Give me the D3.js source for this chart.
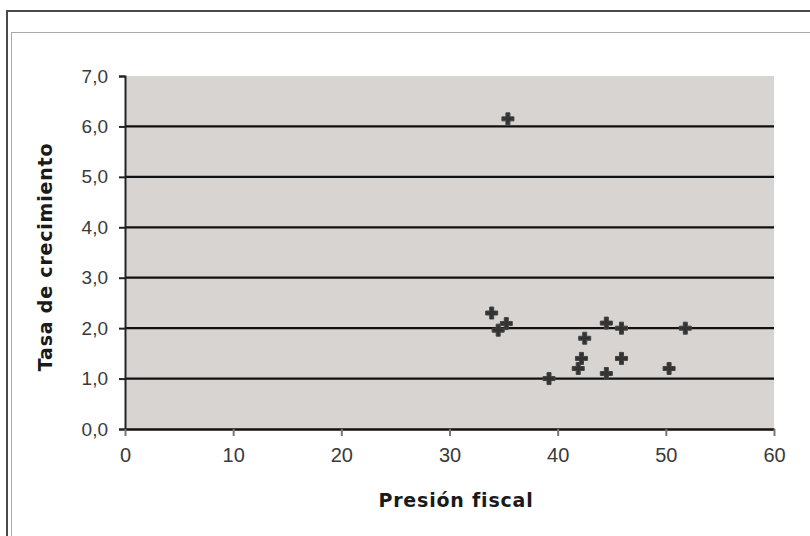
<!DOCTYPE html>
<html>
<head>
<meta charset="utf-8">
<script src="https://cdn.jsdelivr.net/npm/d3@7"></script>
<style>
  html, body { margin: 0; padding: 0; background: #fff; }
  svg { display: block; }
</style>
</head>
<body>
<svg id="chart" width="810" height="536"></svg>
<script>
// Presión fiscal (% PIB) vs tasa de crecimiento
const presionFiscal = [33.9, 34.5, 35.25, 35.4, 39.2, 41.9, 42.2, 42.5, 44.5, 44.5, 45.9, 45.9, 50.3, 51.8];
const tasaCrecimiento = [2.3, 1.96, 2.09, 6.15, 1.0, 1.2, 1.4, 1.8, 2.1, 1.1, 2.0, 1.4, 1.2, 2.0];
const xTicks = [0, 10, 20, 30, 40, 50, 60];
const yTicks = [0, 1, 2, 3, 4, 5, 6, 7];

const svg = d3.select("#chart");
const fmt = v => d3.format(".1f")(v).replace(".", ",");

// frames
svg.append("rect").attr("x", 7).attr("y", 11).attr("width", 830).attr("height", 560)
  .attr("fill", "none").attr("stroke", "#4a4a4a").attr("stroke-width", 2);
svg.append("rect").attr("x", 11.5).attr("y", 32.5).attr("width", 830).attr("height", 560)
  .attr("fill", "none").attr("stroke", "#555").attr("stroke-width", 1)
  .attr("stroke-dasharray", "1,1");

const x = d3.scaleLinear().domain([0, 60]).range([125, 774]);
const y = d3.scaleLinear().domain([0, 7]).range([429, 76]);

// plot area
svg.append("rect").attr("x", x(0)).attr("y", y(7))
  .attr("width", x(60) - x(0)).attr("height", y(0) - y(7))
  .attr("fill", "#d8d4d1");

// horizontal gridlines
svg.append("g").selectAll("line").data(yTicks.filter(d => d > 0 && d < 7)).join("line")
  .attr("x1", x(0)).attr("x2", x(60))
  .attr("y1", d => y(d)).attr("y2", d => y(d))
  .attr("stroke", "#111").attr("stroke-width", 2.2);

// y axis
const yAxis = svg.append("g").attr("transform", `translate(${x(0)},0)`)
  .call(d3.axisLeft(y).tickValues(yTicks).tickFormat(fmt).tickSize(6).tickPadding(11));
yAxis.select(".domain").attr("stroke", "#222").attr("stroke-width", 2);
yAxis.selectAll(".tick line").attr("stroke", "#222").attr("stroke-width", 2);
yAxis.selectAll(".tick text").attr("font-family", "Liberation Sans, Arial, sans-serif")
  .attr("font-size", 19).attr("fill", "#3a3a3a");

// x axis
const xAxis = svg.append("g").attr("transform", `translate(0,${y(0)})`)
  .call(d3.axisBottom(x).tickValues(xTicks).tickSize(7).tickPadding(12).tickSizeOuter(0));
xAxis.select(".domain").attr("stroke", "#111").attr("stroke-width", 2.5);
xAxis.selectAll(".tick line").attr("stroke", "#777").attr("stroke-width", 2);
xAxis.selectAll(".tick text").attr("font-family", "Liberation Sans, Arial, sans-serif")
  .attr("font-size", 20).attr("fill", "#3a3a3a");

// points
const pts = presionFiscal.map((v, i) => [v, tasaCrecimiento[i]]);
svg.append("g").selectAll("path").data(pts).join("path")
  .attr("d", d3.symbol().type(d3.symbolCross).size(80))
  .attr("transform", d => `translate(${x(d[0])},${y(d[1])})`)
  .attr("fill", "#333").attr("stroke", "#444").attr("stroke-width", 1)
  .attr("stroke-linejoin", "round");

// axis titles
svg.append("text").attr("x", 456).attr("y", 507).attr("text-anchor", "middle")
  .attr("font-family", "DejaVu Sans, Verdana, sans-serif").attr("font-weight", "bold")
  .attr("font-size", 19).attr("letter-spacing", 0.8).attr("fill", "#1a1a1a")
  .text("Presión fiscal");
svg.append("text").attr("transform", "translate(52,257) rotate(-90)").attr("text-anchor", "middle")
  .attr("font-family", "DejaVu Sans, Verdana, sans-serif").attr("font-weight", "bold")
  .attr("font-size", 19).attr("letter-spacing", 0.8).attr("fill", "#1a1a1a")
  .text("Tasa de crecimiento");
</script>
</body>
</html>
